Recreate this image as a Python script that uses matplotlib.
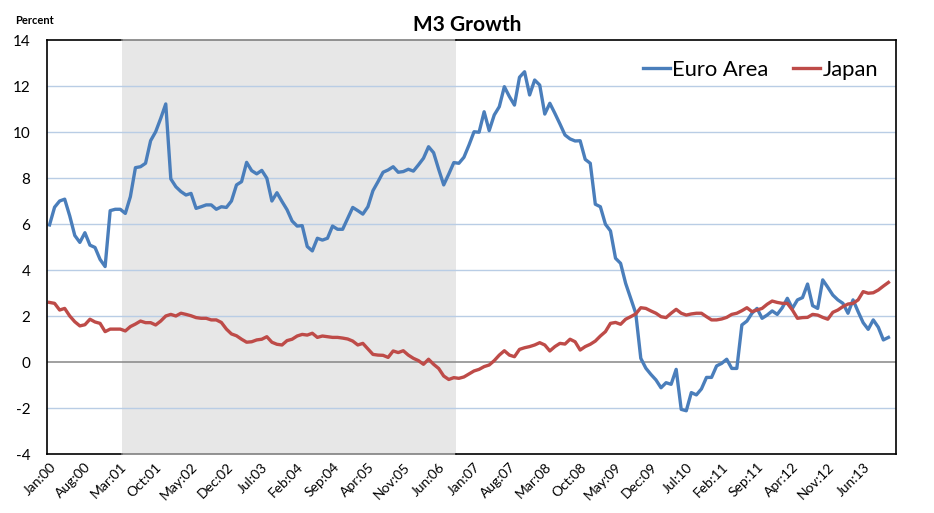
import matplotlib
matplotlib.use("Agg")
import matplotlib.pyplot as plt
import numpy as np

months = ["Jan", "Feb", "Mar", "Apr", "May", "Jun", "Jul", "Aug", "Sep", "Oct", "Nov", "Dec"]
categories = [f"{m}:{y % 100:02d}" for y in range(2000, 2014) for m in months]  # Jan:00 .. Dec:13

euro_area = [
    5.96, 6.73, 7.0, 7.08, 6.35, 5.5, 5.2, 5.62, 5.08, 4.98, 4.46, 4.15,
    6.58, 6.64, 6.64, 6.46, 7.19, 8.45, 8.49, 8.64, 9.62, 10.01, 10.59, 11.22,
    7.96, 7.62, 7.41, 7.26, 7.33, 6.68, 6.75, 6.83, 6.83, 6.64, 6.75, 6.72,
    7.0, 7.7, 7.84, 8.68, 8.32, 8.18, 8.33, 7.99, 7.0, 7.36, 6.98, 6.62,
    6.13, 5.91, 5.93, 5.02, 4.83, 5.38, 5.3, 5.38, 5.91, 5.77, 5.77, 6.25,
    6.72, 6.58, 6.43, 6.75, 7.45, 7.84, 8.25, 8.35, 8.49, 8.25, 8.28, 8.38,
    8.3, 8.57, 8.86, 9.36, 9.1, 8.38, 7.7, 8.17, 8.67, 8.64, 8.9, 9.43,
    10.01, 9.99, 10.88, 10.06, 10.74, 11.1, 11.97, 11.54, 11.17, 12.38, 12.62, 11.61,
    12.26, 12.04, 10.78, 11.25, 10.81, 10.35, 9.87, 9.7, 9.61, 9.62, 8.81, 8.64,
    6.86, 6.75, 5.99, 5.7, 4.51, 4.29, 3.42, 2.77, 2.12, 0.16, -0.27, -0.54,
    -0.78, -1.12, -0.9, -0.97, -0.32, -2.06, -2.12, -1.33, -1.43, -1.17, -0.67, -0.67,
    -0.17, -0.06, 0.12, -0.28, -0.28, 1.61, 1.78, 2.12, 2.33, 1.9, 2.04, 2.22,
    2.07, 2.36, 2.77, 2.33, 2.7, 2.8, 3.39, 2.45, 2.33, 3.57, 3.25, 2.91,
    2.7, 2.55, 2.12, 2.7, 2.19, 1.71, 1.42, 1.83, 1.51, 0.96, 1.07,
]

japan = [
    2.59, 2.55, 2.26, 2.33, 2.0, 1.75, 1.57, 1.62, 1.86, 1.74, 1.68, 1.32,
    1.43, 1.43, 1.43, 1.35, 1.54, 1.65, 1.78, 1.71, 1.71, 1.61, 1.78, 2.0,
    2.07, 2.0, 2.12, 2.07, 2.01, 1.93, 1.9, 1.9, 1.83, 1.83, 1.72, 1.43,
    1.22, 1.14, 0.99, 0.86, 0.88, 0.96, 0.99, 1.1, 0.86, 0.77, 0.74, 0.93,
    0.99, 1.13, 1.2, 1.17, 1.25, 1.07, 1.13, 1.1, 1.07, 1.07, 1.04, 1.0,
    0.91, 0.74, 0.81, 0.57, 0.33, 0.3, 0.29, 0.2, 0.48, 0.41, 0.49, 0.3,
    0.16, 0.06, -0.1, 0.12, -0.1, -0.28, -0.61, -0.76, -0.68, -0.71, -0.65, -0.52,
    -0.39, -0.32, -0.2, -0.13, 0.06, 0.3, 0.49, 0.3, 0.23, 0.55, 0.62, 0.67,
    0.74, 0.84, 0.74, 0.48, 0.67, 0.81, 0.78, 0.99, 0.88, 0.52, 0.67, 0.77,
    0.91, 1.13, 1.32, 1.68, 1.72, 1.64, 1.86, 1.97, 2.09, 2.36, 2.33, 2.22,
    2.12, 1.97, 1.93, 2.12, 2.29, 2.12, 2.04, 2.09, 2.12, 2.12, 1.97, 1.83,
    1.83, 1.87, 1.94, 2.07, 2.12, 2.23, 2.36, 2.19, 2.26, 2.33, 2.51, 2.65,
    2.59, 2.55, 2.55, 2.26, 1.9, 1.93, 1.94, 2.07, 2.04, 1.94, 1.86, 2.16,
    2.26, 2.41, 2.52, 2.55, 2.7, 3.06, 2.99, 3.01, 3.13, 3.3, 3.46,
]

shade_start = "Apr:01"
shade_end = "Sep:06"
tick_labels = categories[::7][:24]
y_ticks = list(range(-4, 15, 2))

plt.rcParams["font.family"] = ["Lato", "DejaVu Sans"]

fig = plt.figure(figsize=(9.34, 5.13), dpi=100)
ax = fig.add_axes([47 / 934, 1 - 454 / 513, (896 - 47) / 934, (454 - 40) / 513])

n_cat = len(categories)
x_e = np.arange(len(euro_area))
x_j = np.arange(len(japan))

ax.set_xlim(-0.5, n_cat - 0.5)
ax.set_ylim(-4, 14)

s0 = categories.index(shade_start) - 0.6
s1 = categories.index(shade_end) + 0.4
ax.axvspan(s0, s1, facecolor="#E7E7E7", edgecolor="none", zorder=0.5)

for yv in y_ticks:
    if yv in (-4, 14):
        continue
    if yv == 0:
        ax.axhline(0, color="#868686", lw=1.1, zorder=1)
    else:
        ax.axhline(yv, color="#B9CDE5", lw=1.0, zorder=1)

ax.plot(x_e, euro_area, color="#4A7EBB", lw=2.4, solid_joinstyle="round", zorder=3, label="Euro Area")
ax.plot(x_j, japan, color="#BE4B48", lw=2.4, solid_joinstyle="round", zorder=3, label="Japan")

for sp in ax.spines.values():
    sp.set_visible(False)
tr = ax.get_xaxis_transform()
x0, x1 = -0.5, n_cat - 0.5
for yy in (0, 1):
    ax.plot([x0, s0], [yy, yy], transform=tr, color="black", lw=1.2, clip_on=False, zorder=4)
    ax.plot([s0, s1], [yy, yy], transform=tr, color="#808080", lw=1.2, clip_on=False, zorder=4)
    ax.plot([s1, x1], [yy, yy], transform=tr, color="black", lw=1.2, clip_on=False, zorder=4)
ax.plot([x0, x0], [0, 1], transform=tr, color="black", lw=1.2, clip_on=False, zorder=4)
ax.plot([x1, x1], [0, 1], transform=tr, color="black", lw=1.2, clip_on=False, zorder=4)

ax.set_yticks(y_ticks)
ax.set_yticklabels([str(v) for v in y_ticks], fontsize=11)
ax.tick_params(axis="y", length=0, pad=12)

tick_pos = [categories.index(t) for t in tick_labels]
ax.set_xticks(tick_pos)
ax.set_xticklabels(tick_labels, rotation=45, ha="right", va="top", rotation_mode="anchor", fontsize=10)
ax.tick_params(axis="x", length=0, pad=5)

fig.text(467 / 934, 1 - 25 / 513, "M3 Growth", ha="center", va="center", fontsize=15, fontweight="bold")
fig.text(15 / 934, 1 - 20 / 513, "Percent", ha="left", va="center", fontsize=8, fontweight="bold")

leg = ax.legend(loc="center right", bbox_to_anchor=(878 / 934, 1 - 70 / 513), bbox_transform=fig.transFigure,
                ncol=2, frameon=False, fontsize=15.8, handlelength=1.25, handletextpad=0.1,
                columnspacing=1.1, borderpad=0, borderaxespad=0)

fig.savefig("out.png", dpi=100)
